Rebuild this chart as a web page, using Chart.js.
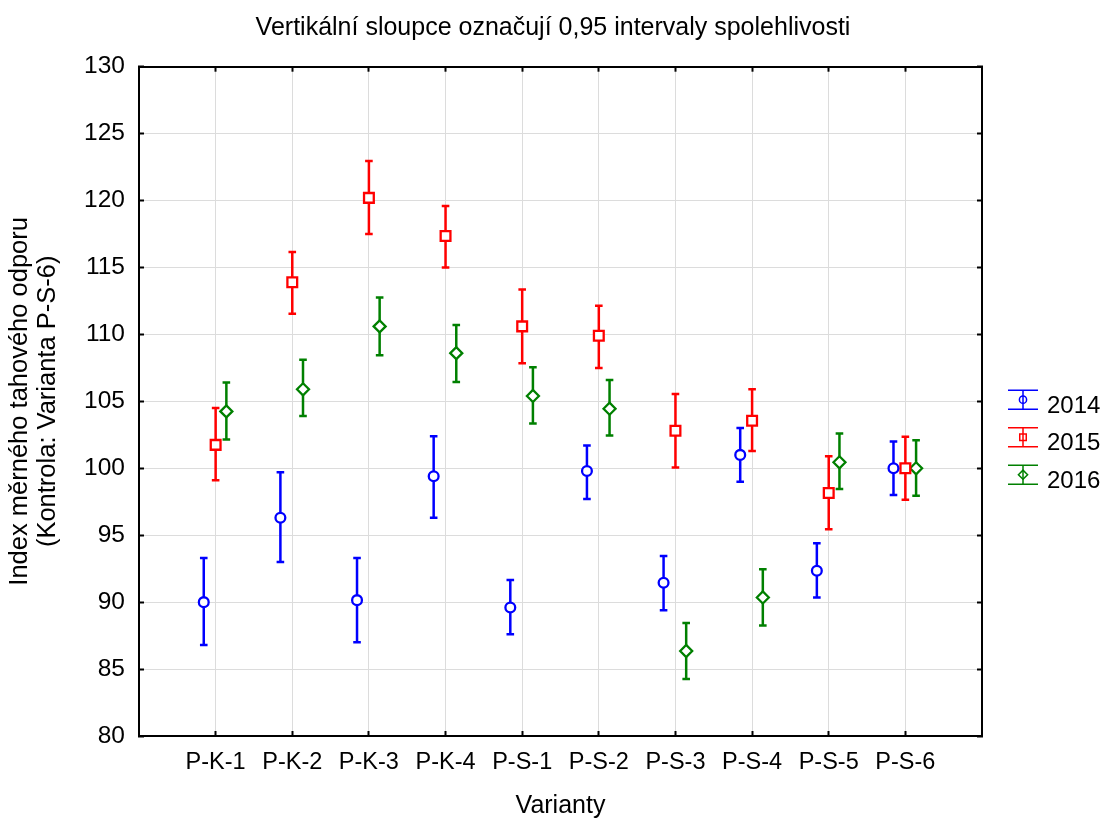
<!DOCTYPE html>
<html>
<head>
<meta charset="utf-8">
<script src="https://cdn.jsdelivr.net/npm/chart.js@4.4.1/dist/chart.umd.min.js"></script>
<style>
  html, body { margin: 0; padding: 0; background: #fff; }
</style>
</head>
<body>
<canvas id="odporChart" width="1106" height="821"></canvas>
<script>
// varianty a roky
const varianty = ['P-K-1', 'P-K-2', 'P-K-3', 'P-K-4', 'P-S-1', 'P-S-2', 'P-S-3', 'P-S-4', 'P-S-5', 'P-S-6'];
const roky = ['2014', '2015', '2016'];

// průměry a meze 0,95 intervalů
const prumer2014 = [90.0, 96.3, 90.15, 99.4, 89.6, 99.8, 91.45, 101.0, 92.35, 100.0];
const dolni2014  = [86.8, 93.0, 87.0, 96.3, 87.6, 97.7, 89.4, 99.0, 90.35, 98.0];
const horni2014  = [93.3, 99.7, 93.3, 102.4, 91.65, 101.7, 93.45, 103.0, 94.4, 102.0];

const prumer2015 = [101.75, 113.9, 120.2, 117.35, 110.6, 109.9, 102.8, 103.55, 98.15, 100.0];
const dolni2015  = [99.1, 111.55, 117.5, 115.0, 107.85, 107.5, 100.05, 101.3, 95.45, 97.65];
const horni2015  = [104.5, 116.15, 122.95, 119.6, 113.35, 112.15, 105.55, 105.9, 100.9, 102.35];

const prumer2016 = [104.25, 105.9, 110.6, 108.6, 105.4, 104.45, 86.35, 90.35, 100.45, 100.0];
const dolni2016  = [102.15, 103.9, 108.45, 106.45, 103.35, 102.45, 84.25, 88.25, 98.45, 97.95];
const horni2016  = [106.4, 108.1, 112.75, 110.7, 107.55, 106.6, 88.45, 92.45, 102.6, 102.1];

const posun = [-0.155, 0, 0.14];
const barvy = ['#0000ff', '#ff0000', '#008000'];
const znacky = ['circle', 'rect', 'rectRot'];
const velikosti = [4.9, 6.9, 6.0];

const pismo = "'Liberation Sans', Arial, sans-serif";
Chart.defaults.font.family = pismo;
Chart.defaults.color = '#000';

function body(prumery, k) {
    return prumery.map((v, i) => ({ x: i + 1 + posun[k], y: v }));
}

const sady = [
    [prumer2014, dolni2014, horni2014],
    [prumer2015, dolni2015, horni2015],
    [prumer2016, dolni2016, horni2016]
].map(([p, d, h], k) => ({
    label: roky[k],
    data: body(p, k),
    dolni: d,
    horni: h,
    showLine: false,
    pointStyle: znacky[k],
    pointRadius: velikosti[k],
    pointHoverRadius: velikosti[k],
    borderColor: barvy[k],
    backgroundColor: '#fff',
    pointBorderWidth: 2.3
}));

// svislé úsečky intervalů s příčkami
const intervaly = {
    id: 'intervaly',
    beforeDatasetsDraw(chart) {
        const { ctx, scales: { x, y } } = chart;
        ctx.save();
        ctx.lineWidth = 2.5;
        chart.data.datasets.forEach(ds => {
            ctx.strokeStyle = ds.borderColor;
            ds.data.forEach((p, i) => {
                const px = x.getPixelForValue(p.x);
                const yh = y.getPixelForValue(ds.horni[i]);
                const yd = y.getPixelForValue(ds.dolni[i]);
                ctx.beginPath();
                ctx.moveTo(px, yh); ctx.lineTo(px, yd);
                ctx.moveTo(px - 3.8, yh); ctx.lineTo(px + 3.8, yh);
                ctx.moveTo(px - 3.8, yd); ctx.lineTo(px + 3.8, yd);
                ctx.stroke();
            });
        });
        ctx.restore();
    }
};

// legenda vpravo od grafu
const legendaRoku = {
    id: 'legendaRoku',
    afterDraw(chart) {
        const { ctx, chartArea } = chart;
        const cx = chartArea.right + 41;
        ctx.save();
        chart.data.datasets.forEach((ds, i) => {
            const cy = chartArea.top + 333 + i * 37.5;
            ctx.strokeStyle = ds.borderColor;
            ctx.lineWidth = 1.5;
            ctx.beginPath();
            ctx.moveTo(cx - 15, cy - 9.5); ctx.lineTo(cx + 15, cy - 9.5);
            ctx.moveTo(cx - 15, cy + 9.5); ctx.lineTo(cx + 15, cy + 9.5);
            ctx.moveTo(cx, cy - 9.5); ctx.lineTo(cx, cy + 9.5);
            ctx.stroke();
            ctx.fillStyle = 'rgba(255,255,255,0)';
            Chart.helpers.drawPoint(ctx, { pointStyle: ds.pointStyle, radius: i === 0 ? 3.6 : 4.6, borderWidth: 1.5, rotation: 0 }, cx, cy);
            ctx.fillStyle = '#000';
            ctx.font = '24px ' + pismo;
            ctx.textBaseline = 'middle';
            ctx.textAlign = 'left';
            ctx.fillText(ds.label, cx + 24, cy + 6.5);
        });
        ctx.restore();
    }
};

const jenKategorie = s => { s.ticks = s.ticks.filter(t => t.value >= 1 && t.value <= 10); };
const ramecek = { display: true, color: '#000', width: 2 };
const mrizka = { color: '#dcdcdc', lineWidth: 1, tickLength: -5, tickColor: '#000', tickWidth: 2 };

new Chart(document.getElementById('odporChart'), {
    type: 'scatter',
    data: { datasets: sady },
    options: {
        responsive: false,
        animation: false,
        layout: { padding: 0 },
        plugins: {
            legend: { display: false },
            tooltip: { enabled: false },
            title: {
                display: true,
                text: 'Vertikální sloupce označují 0,95 intervaly spolehlivosti',
                font: { size: 25, weight: 'normal' },
                padding: { top: 13, bottom: 23.7 }
            }
        },
        scales: {
            x: {
                type: 'linear', position: 'bottom', min: 0, max: 11,
                afterBuildTicks: jenKategorie,
                afterFit: s => { s.height = 85; },
                ticks: { stepSize: 1, padding: 17, font: { size: 23.5 }, callback: v => varianty[v - 1] || '' },
                grid: mrizka, border: ramecek,
                title: { display: true, text: 'Varianty', font: { size: 25 }, padding: { top: 0, bottom: 0 } }
            },
            x2: {
                type: 'linear', position: 'top', axis: 'x', min: 0, max: 11,
                afterBuildTicks: jenKategorie,
                afterFit: s => { s.height = 0; },
                ticks: { display: false, stepSize: 1 },
                grid: { ...mrizka, drawOnChartArea: false }, border: ramecek
            },
            y: {
                position: 'left', min: 80, max: 130,
                afterFit: s => { s.width = 139; },
                ticks: { stepSize: 5, padding: 19, font: { size: 24.5 } },
                grid: mrizka, border: ramecek,
                title: {
                    display: true,
                    text: ['Index měrného tahového odporu', '(Kontrola: Varianta P-S-6)'],
                    font: { size: 25.5, lineHeight: 1.1 }, padding: { top: 6, bottom: 0 }
                }
            },
            y2: {
                position: 'right', axis: 'y', min: 80, max: 130,
                afterFit: s => { s.width = 124; },
                ticks: { display: false, stepSize: 5 },
                grid: { ...mrizka, drawOnChartArea: false }, border: ramecek
            }
        }
    },
    plugins: [intervaly, legendaRoku]
});
</script>
</body>
</html>
